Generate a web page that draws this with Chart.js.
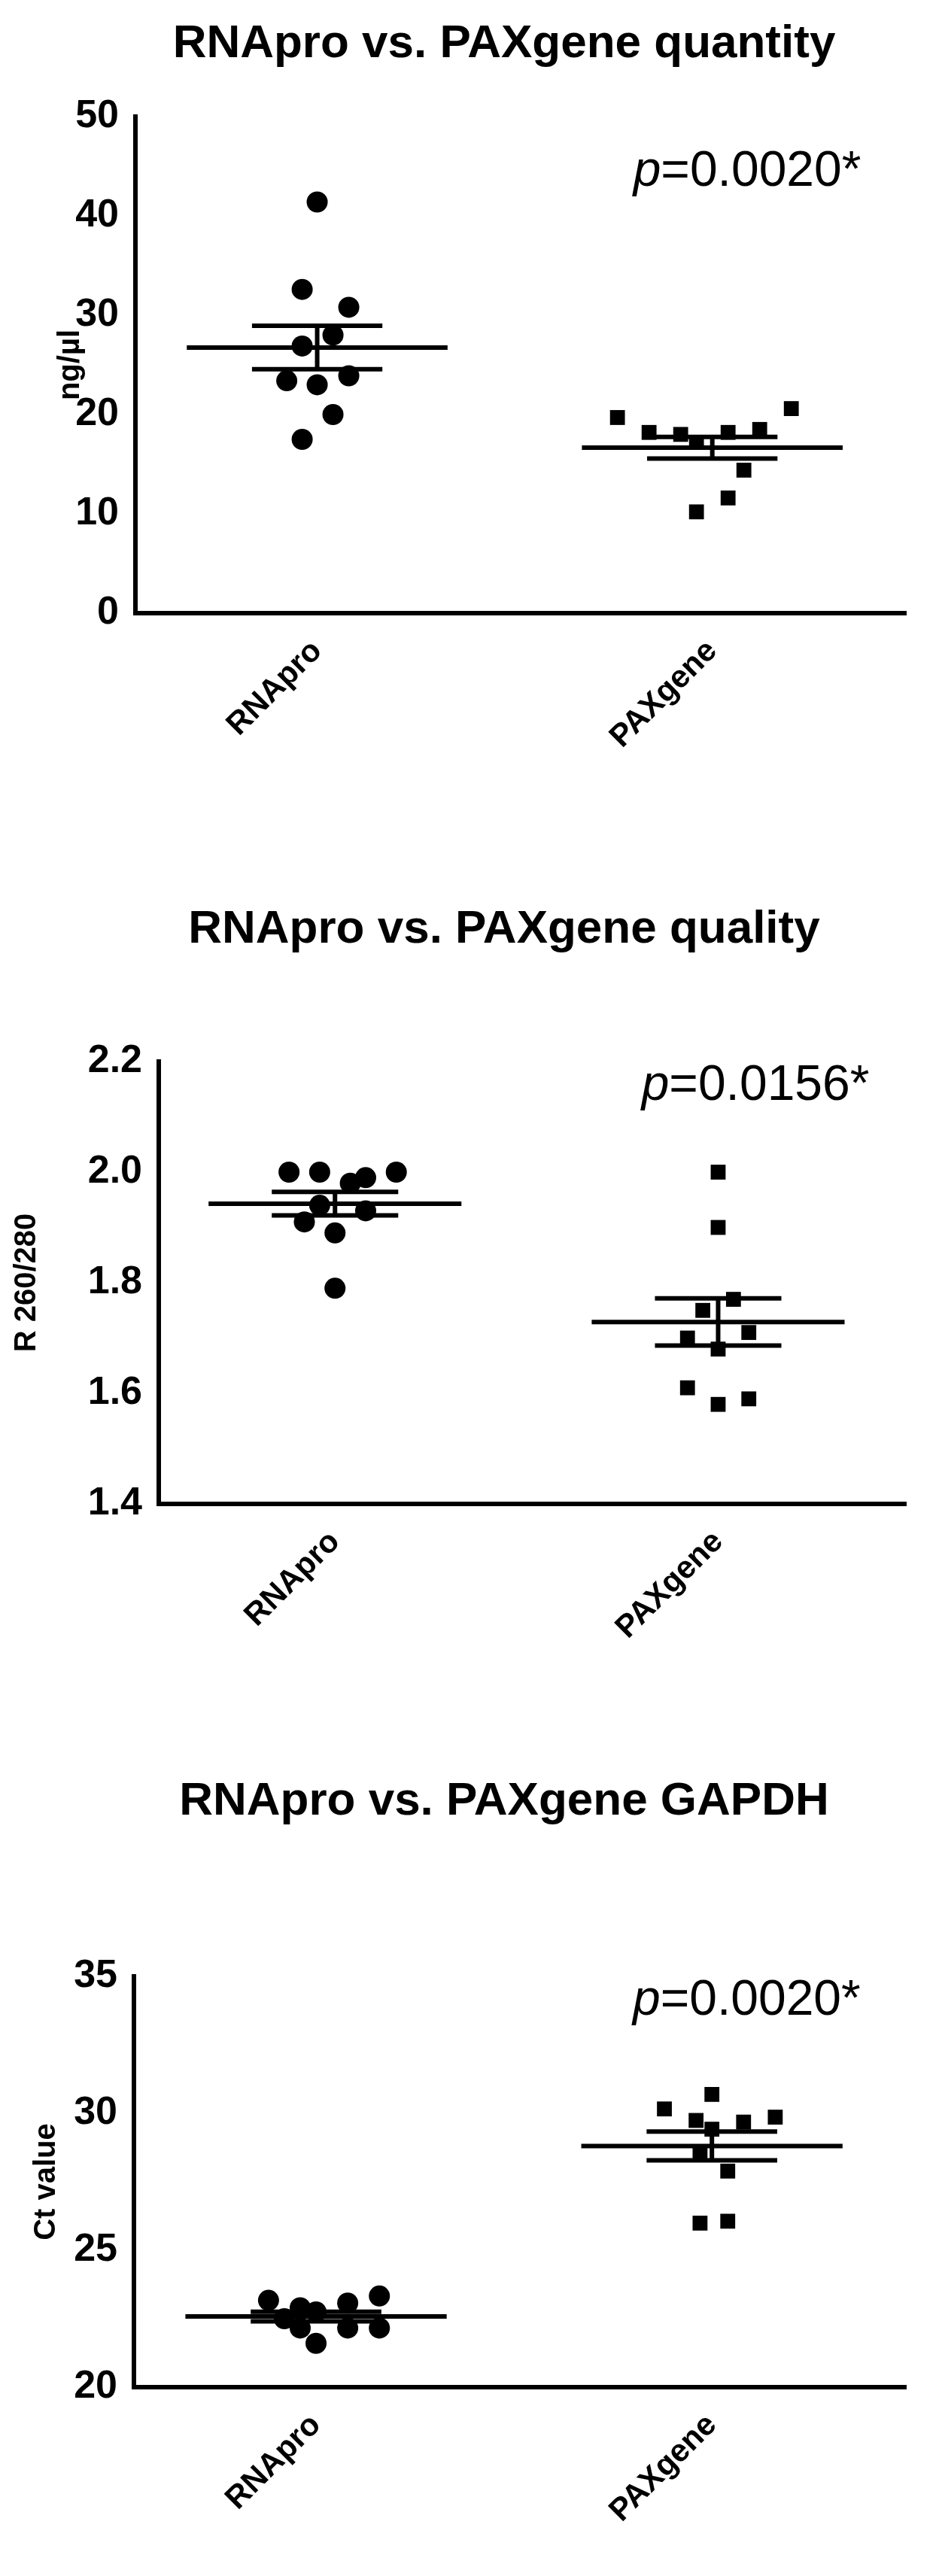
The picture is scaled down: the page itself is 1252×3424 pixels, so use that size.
<!DOCTYPE html>
<html><head><meta charset="utf-8">
<script src="https://cdn.jsdelivr.net/npm/chart.js@4.4.1/dist/chart.umd.min.js"></script>
<style>body{margin:0;background:#fff;width:1252px}canvas{display:block}.p{width:1252px;height:1141px;position:relative}</style>
</head><body>
<div class="p"><canvas id="c1"></canvas></div>
<div class="p"><canvas id="c2"></canvas></div>
<div class="p"><canvas id="c3"></canvas></div>
<script>
const categories = ['RNApro', 'PAXgene'];
// Panel 1: quantity (ng/µl)
const qtyRNApro = [41.4, 32.6, 30.8, 28.0, 26.9, 23.9, 23.4, 23.0, 20.0, 17.5];
const qtyRNAproJitter = [0, -0.038, 0.08, 0.04, -0.038, 0.08, -0.077, 0, 0.04, -0.038];
const qtyPAX = [19.7, 18.2, 18.0, 17.2, 18.2, 18.5, 20.6, 14.4, 11.6, 10.2];
const qtyPAXJitter = [-0.24, -0.16, -0.08, -0.04, 0.04, 0.12, 0.2, 0.08, 0.04, -0.04];
// Panel 2: quality (R 260/280)
const qualRNApro = [2.0, 2.0, 1.99, 1.98, 2.0, 1.94, 1.93, 1.91, 1.89, 1.79];
const qualRNAproJitter = [-0.12, -0.04, 0.08, 0.04, 0.16, -0.04, 0.08, -0.08, 0, 0];
const qualPAX = [2.0, 1.90, 1.77, 1.75, 1.71, 1.70, 1.68, 1.61, 1.58, 1.59];
const qualPAXJitter = [0, 0, 0.04, -0.04, 0.08, -0.08, 0, -0.08, 0, 0.08];
// Panel 3: GAPDH Ct value
const ctRNApro = [23.17, 22.9, 22.5, 22.75, 23.07, 23.33, 22.16, 22.16, 22.16, 21.6];
const ctRNAproJitter = [-0.12, -0.04, -0.08, 0, 0.08, 0.16, -0.04, 0.08, 0.16, 0];
const ctPAX = [30.16, 30.69, 29.74, 29.68, 29.86, 29.42, 28.57, 27.89, 25.99, 26.06];
const ctPAXJitter = [-0.12, 0, -0.04, 0.08, 0.16, 0, -0.03, 0.04, -0.03, 0.04];

const ticks1 = [0, 10, 20, 30, 40, 50];
const ticks2 = [1.4, 1.6, 1.8, 2.0, 2.2];
const ticks3 = [20, 25, 30, 35];

const FONT = '"Liberation Sans", Arial, sans-serif';

function stats(a){const m=a.reduce((s,v)=>s+v,0)/a.length;const sd=Math.sqrt(a.reduce((s,v)=>s+(v-m)*(v-m),0)/(a.length-1));return {m, se: sd/Math.sqrt(a.length)};}

const summaryPlugin = {
  id: 'summary',
  afterDatasetsDraw(chart, args, opts) {
    const {ctx, scales:{x, y}} = chart;
    ctx.save(); ctx.strokeStyle = '#000'; ctx.lineWidth = 6; ctx.lineCap = 'butt';
    chart.data.datasets.forEach((ds, i) => {
      const st = stats(ds.data.map(p => p.y));
      const cx = i + 1;
      const line = (x0, x1, v) => { ctx.beginPath(); ctx.moveTo(x.getPixelForValue(x0), y.getPixelForValue(v)); ctx.lineTo(x.getPixelForValue(x1), y.getPixelForValue(v)); ctx.stroke(); };
      line(cx - 0.33, cx + 0.33, st.m);
      line(cx - 0.165, cx + 0.165, st.m + st.se);
      line(cx - 0.165, cx + 0.165, st.m - st.se);
      ctx.beginPath(); ctx.moveTo(x.getPixelForValue(cx), y.getPixelForValue(st.m + st.se)); ctx.lineTo(x.getPixelForValue(cx), y.getPixelForValue(st.m - st.se)); ctx.stroke();
    });
    ctx.fillStyle = '#000'; ctx.textAlign = 'center'; ctx.textBaseline = 'alphabetic';
    ctx.font = 'bold 62px ' + FONT;
    ctx.fillText(opts.title, opts.titleX, opts.titleY);
    const pv = y.getPixelForValue(opts.pY);
    ctx.textAlign = 'left';
    ctx.font = 'italic 66px ' + FONT;
    const px = x.getPixelForValue(1.8);
    ctx.fillText('p', px, pv);
    const w = ctx.measureText('p').width;
    ctx.font = '66px ' + FONT;
    ctx.fillText(opts.pText, px + w, pv);
    ctx.restore();
  }
};

function makeChart(id, cfg) {
  const pts = (vals, jit, c) => vals.map((v, i) => ({x: c + jit[i], y: v}));
  new Chart(document.getElementById(id), {
    type: 'scatter',
    data: { datasets: [
      { label: categories[0], data: pts(cfg.a, cfg.aj, 1), pointStyle: 'circle', pointRadius: 14, backgroundColor: '#000', borderColor: '#000', borderWidth: 0 },
      { label: categories[1], data: pts(cfg.b, cfg.bj, 2), pointStyle: 'rect', pointRadius: 14, backgroundColor: '#000', borderColor: '#000', borderWidth: 0 }
    ]},
    options: {
      responsive: true, maintainAspectRatio: false, animation: false,
      layout: { padding: { top: cfg.top, right: 48, left: 0, bottom: 0 } },
      plugins: { legend: { display: false }, tooltip: { enabled: false },
        summary: { title: cfg.title, titleX: 670, titleY: cfg.titleY, pText: cfg.pText, pY: cfg.pY } },
      scales: {
        x: { type: 'linear', min: 0.54, max: 2.49,
          afterBuildTicks: s => { s.ticks = [{value: 1}, {value: 2}]; },
          afterFit: s => { s.height = cfg.xh; },
          grid: { display: false, drawTicks: true, tickLength: 18, tickWidth: 6, tickColor: '#000' },
          border: { display: true, color: '#000', width: 6 },
          ticks: { callback: v => categories[v - 1], color: '#000', maxRotation: 45, minRotation: 45, padding: 8,
            font: { family: FONT, size: 42, weight: 'bold' } } },
        y: { min: cfg.ticks[0], max: cfg.ticks[cfg.ticks.length - 1],
          afterBuildTicks: s => { s.ticks = cfg.ticks.map(v => ({value: v})); },
          afterFit: s => { s.width = cfg.yw; },
          grid: { display: false, drawTicks: true, tickLength: 16, tickWidth: 6, tickColor: '#000' },
          border: { display: true, color: '#000', width: 6 },
          title: { display: true, text: cfg.ytitle, color: '#000', font: { family: FONT, size: 40, weight: 'bold' }, padding: { top: cfg.ytp, bottom: 4 } },
          ticks: { color: '#000', padding: 6, callback: cfg.fmt, font: { family: FONT, size: 52, weight: 'bold' } } }
      }
    },
    plugins: [summaryPlugin]
  });
}

makeChart('c1', { a: qtyRNApro, aj: qtyRNAproJitter, b: qtyPAX, bj: qtyPAXJitter, ticks: ticks1,
  fmt: v => String(v), ytitle: 'ng/µl', ytp: 70, title: 'RNApro vs. PAXgene quantity', titleY: 76,
  pText: '=0.0020*', pY: 43, top: 155, xh: 326, yw: 180 });
makeChart('c2', { a: qualRNApro, aj: qualRNAproJitter, b: qualPAX, bj: qualPAXJitter, ticks: ticks2,
  fmt: v => v.toFixed(1), ytitle: 'R 260/280', ytp: 12, title: 'RNApro vs. PAXgene quality', titleY: 112,
  pText: '=0.0156*', pY: 2.13, top: 270, xh: 283, yw: 211 });
makeChart('c3', { a: ctRNApro, aj: ctRNAproJitter, b: ctPAX, bj: ctPAXJitter, ticks: ticks3,
  fmt: v => String(v), ytitle: 'Ct value', ytp: 38, title: 'RNApro vs. PAXgene GAPDH', titleY: 130,
  pText: '=0.0020*', pY: 33.6, top: 345, xh: 250, yw: 178 });
</script>
</body></html>
